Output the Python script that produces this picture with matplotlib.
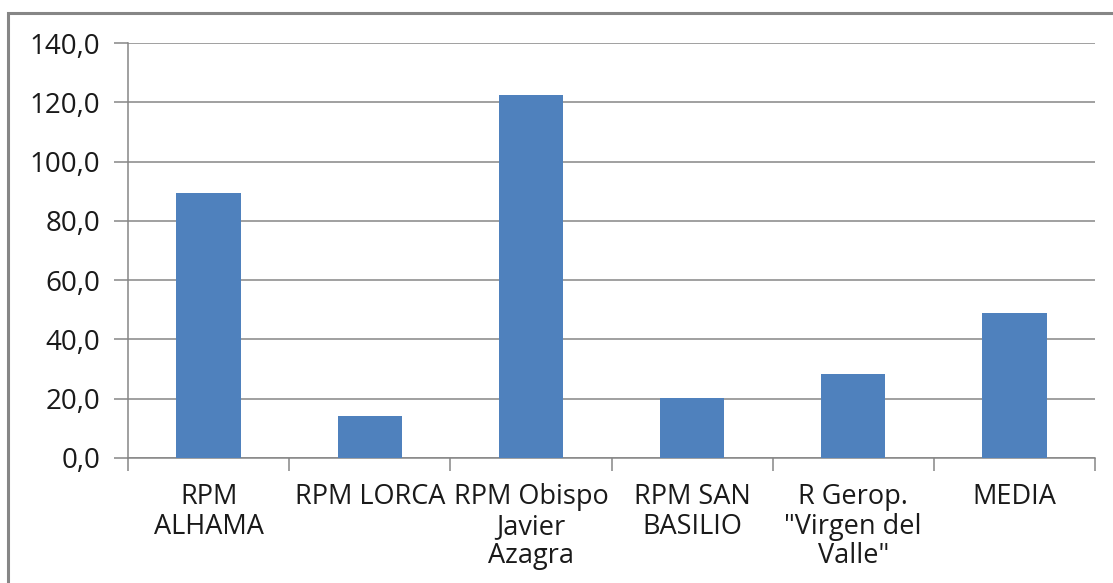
import numpy as np
import matplotlib.pyplot as plt
from matplotlib.patches import Rectangle
from matplotlib.ticker import FuncFormatter

# Datos
categorias = ['RPM\nALHAMA', 'RPM LORCA', 'RPM Obispo\nJavier\nAzagra',
              'RPM SAN\nBASILIO', 'R Gerop.\n"Virgen del\nValle"', 'MEDIA']
valores = [89.4, 14.2, 122.5, 20.2, 28.4, 48.8]
ticks_y = [0, 20, 40, 60, 80, 100, 120, 140]

plt.rcParams['font.family'] = ['Open Sans', 'DejaVu Sans']

fig = plt.figure(figsize=(11.13, 5.83), dpi=100)
ax = fig.add_axes([128 / 1113, 125 / 583, 967 / 1113, 415 / 583])

# Marco exterior del gráfico
fig.patches.append(Rectangle((8 / 1113, -0.1), 1.2, (583 - 13) / 583 + 0.1,
                             transform=fig.transFigure, fill=False,
                             edgecolor='#868686', linewidth=2.2))

x = np.arange(len(categorias))
ax.bar(x, valores, width=0.4, color='#4F81BD', zorder=3)

ax.set_xlim(-0.5, len(categorias) - 0.5)
ax.set_ylim(0, 140)
ax.set_yticks(ticks_y)
ax.yaxis.set_major_formatter(FuncFormatter(lambda v, p: f'{v:.1f}'.replace('.', ',')))
ax.grid(axis='y', color='#868686', linewidth=1.1, zorder=0)

ax.set_xticks(x)
ax.set_xticklabels(categorias, fontsize=19.5, color='#1a1a1a', linespacing=1.08)
ax.set_xticks(np.arange(len(categorias) + 1) - 0.5, minor=True)
ax.tick_params(axis='x', which='major', length=0, pad=18)
ax.tick_params(axis='x', which='minor', length=9, color='#868686', width=1.1)
ax.tick_params(axis='y', length=10, color='#868686', width=1.1, labelsize=20,
               labelcolor='#1a1a1a', pad=10)

for lado in ['top', 'right']:
    ax.spines[lado].set_visible(False)
for lado in ['left', 'bottom']:
    ax.spines[lado].set_color('#868686')
    ax.spines[lado].set_linewidth(1.1)

fig.savefig('out.png', dpi=100)
